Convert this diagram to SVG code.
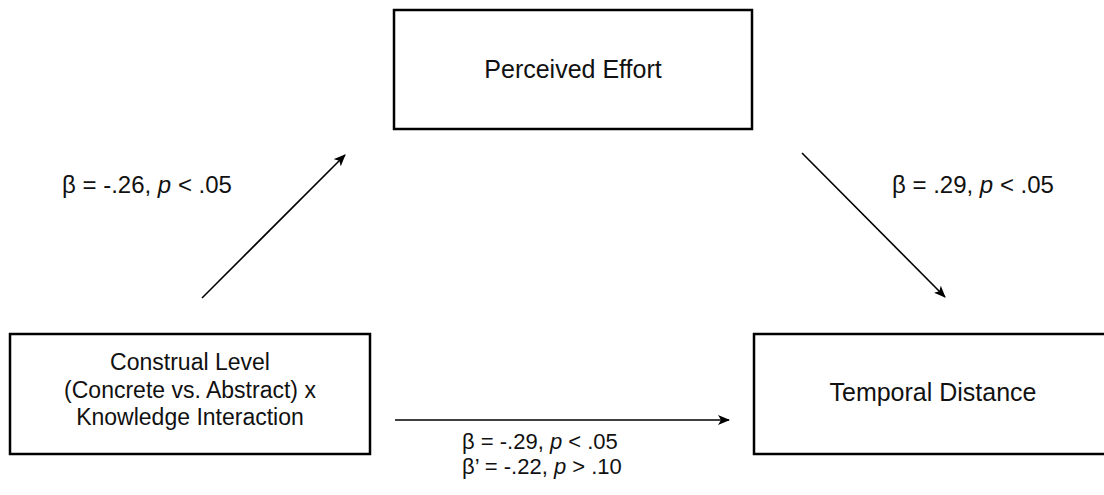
<svg xmlns="http://www.w3.org/2000/svg" width="1104" height="495" viewBox="0 0 1104 495">
<defs>
<style>
.box{fill:#fff;stroke:#000;stroke-width:2.5}
.t{font-family:"Liberation Sans",Arial,sans-serif;font-size:24px;fill:#111}
.n{font-size:25px}
.m{font-size:23px}
.b{font-size:22px}
.c{text-anchor:middle}
.con{stroke:#000;stroke-width:1.6;fill:none;marker-end:url(#ah)}
</style>
<marker id="ah" viewBox="0 0 12 10" refX="11" refY="5" markerWidth="12" markerHeight="10" markerUnits="userSpaceOnUse" orient="auto">
<path d="M0,0 L12,5 L0,10 L3,5 Z" fill="#000"/>
</marker>
</defs>
<rect width="1104" height="495" fill="#fff"/>
<g id="perceived-effort">
<rect class="box" x="394" y="10" width="358" height="119"/>
<text class="t n c" x="573" y="78">Perceived Effort</text>
</g>
<g id="construal-level">
<rect class="box" x="10" y="334" width="360" height="120"/>
<text class="t m c" x="190" y="370">Construal Level</text>
<text class="t m c" x="190" y="398">(Concrete vs. Abstract) x</text>
<text class="t m c" x="190" y="425">Knowledge Interaction</text>
</g>
<g id="temporal-distance">
<rect class="box" x="754" y="334" width="358" height="120"/>
<text class="t n c" x="933" y="401">Temporal Distance</text>
</g>
<g id="connectors">
<line class="con" x1="202" y1="298" x2="345" y2="155"/>
<line class="con" x1="802" y1="153" x2="945" y2="297"/>
<line class="con" x1="395" y1="420" x2="729" y2="420"/>
</g>
<g id="labels">
<text class="t" x="62" y="193">β = -.26, <tspan font-style="italic">p</tspan> &lt; .05</text>
<text class="t" x="892" y="193">β = .29, <tspan font-style="italic">p</tspan> &lt; .05</text>
<text class="t b" x="462" y="449">β = -.29, <tspan font-style="italic">p</tspan> &lt; .05</text>
<text class="t b" x="462" y="474">β’ = -.22, <tspan font-style="italic">p</tspan> &gt; .10</text>
</g>
</svg>
